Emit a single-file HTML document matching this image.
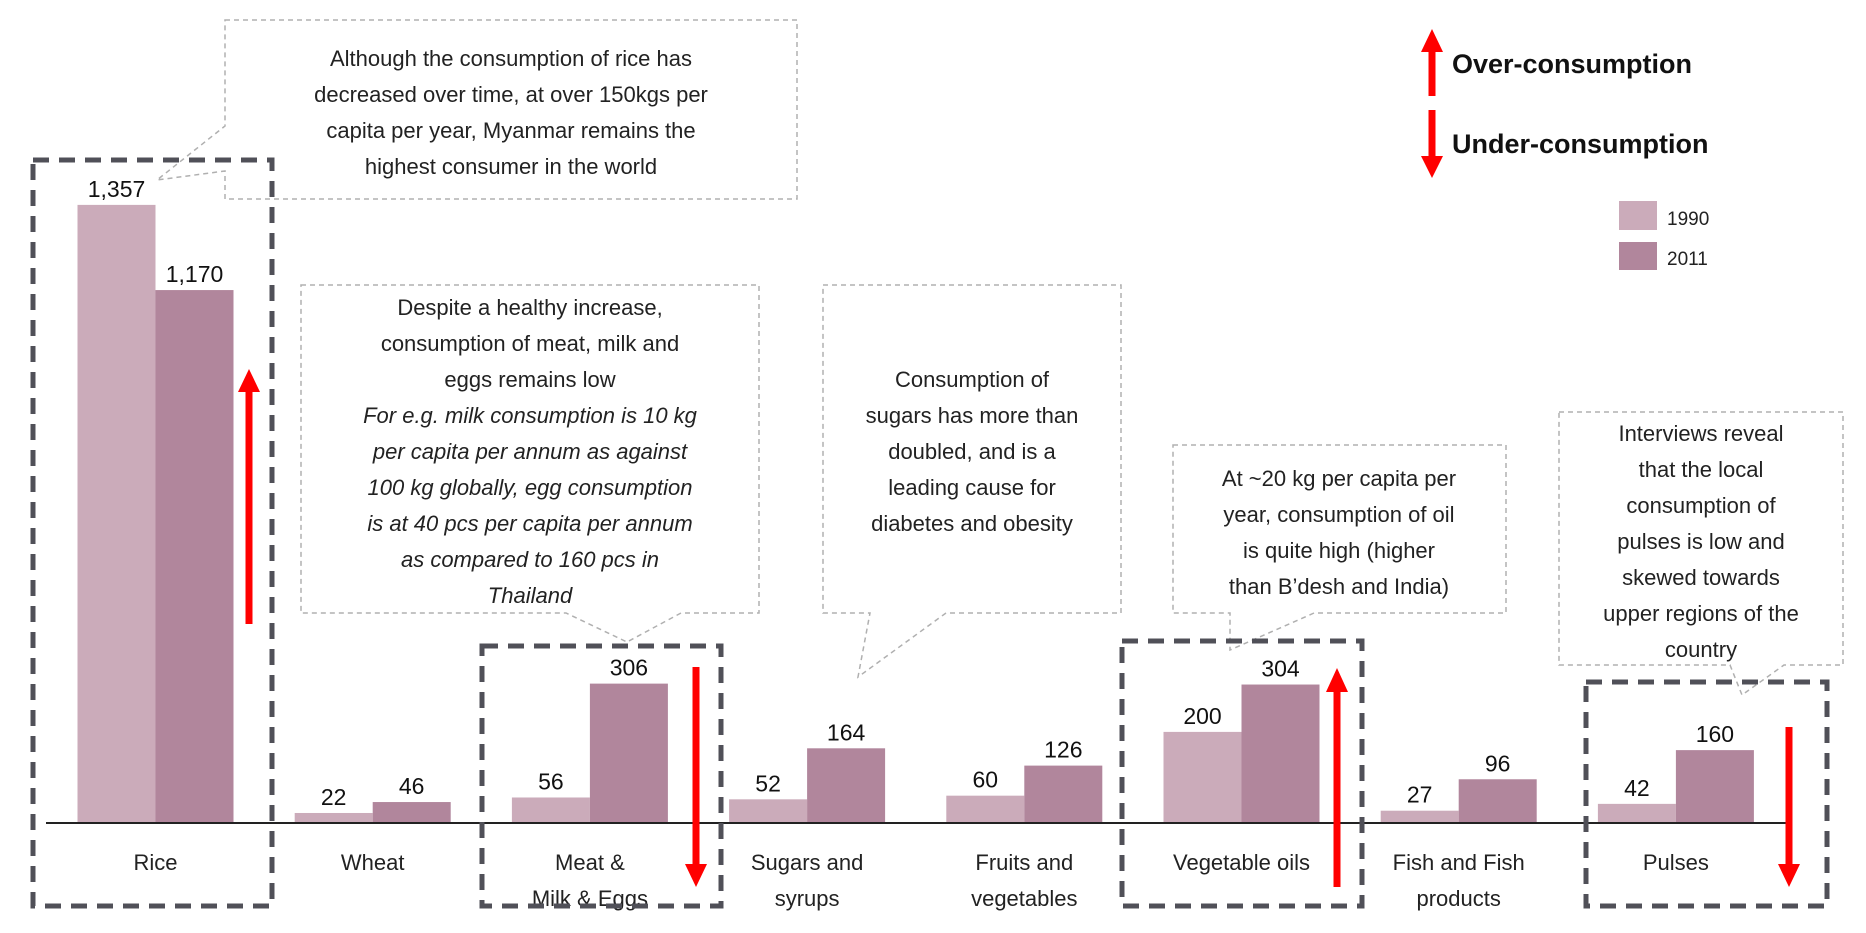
<!DOCTYPE html>
<html><head><meta charset="utf-8">
<style>
html,body{margin:0;padding:0;background:#fff;}
body{width:1866px;height:928px;overflow:hidden;font-family:"Liberation Sans",sans-serif;}
svg text{font-family:"Liberation Sans",sans-serif;}
</style></head>
<body>
<svg id="chart" width="1866" height="928" viewBox="0 0 1866 928" xmlns="http://www.w3.org/2000/svg">
<g id="callouts" fill="#fff" stroke="#b0b0b0" stroke-width="1.5" stroke-dasharray="5,4">
  <path d="M225,20 H797 V199 H225 V171 L157,180 L225,126 Z"/>
  <path d="M301,285 H759 V613 H681 L627,642 L566,613 H301 Z"/>
  <path d="M823,285 H1121 V613 H946 L858,677 L870,613 H823 Z"/>
  <path d="M1173,445 H1506 V613 H1314 L1230,650 L1230,613 H1173 Z"/>
  <path d="M1559,412 H1843 V665 H1784 L1742,695 L1730,665 H1559 Z"/>
</g>
<g font-size="22" fill="#222" text-anchor="middle">
  <text x="511" y="66"><tspan x="511">Although the consumption of rice has</tspan><tspan x="511" dy="36">decreased over time, at over 150kgs per</tspan><tspan x="511" dy="36">capita per year, Myanmar remains the</tspan><tspan x="511" dy="36">highest consumer in the world</tspan></text>
  <text x="530" y="315"><tspan x="530">Despite a healthy increase,</tspan><tspan x="530" dy="36">consumption of meat, milk and</tspan><tspan x="530" dy="36">eggs remains low</tspan><tspan x="530" dy="36" font-style="italic">For e.g. milk consumption is 10 kg</tspan><tspan x="530" dy="36" font-style="italic">per capita per annum as against</tspan><tspan x="530" dy="36" font-style="italic">100 kg globally, egg consumption</tspan><tspan x="530" dy="36" font-style="italic">is at 40 pcs per capita per annum</tspan><tspan x="530" dy="36" font-style="italic">as compared to 160 pcs in</tspan><tspan x="530" dy="36" font-style="italic">Thailand</tspan></text>
  <text x="972" y="387"><tspan x="972">Consumption of</tspan><tspan x="972" dy="36">sugars has more than</tspan><tspan x="972" dy="36">doubled, and is a</tspan><tspan x="972" dy="36">leading cause for</tspan><tspan x="972" dy="36">diabetes and obesity</tspan></text>
  <text x="1339" y="486"><tspan x="1339">At ~20 kg per capita per</tspan><tspan x="1339" dy="36">year, consumption of oil</tspan><tspan x="1339" dy="36">is quite high (higher</tspan><tspan x="1339" dy="36">than B’desh and India)</tspan></text>
  <text x="1701" y="441"><tspan x="1701">Interviews reveal</tspan><tspan x="1701" dy="36">that the local</tspan><tspan x="1701" dy="36">consumption of</tspan><tspan x="1701" dy="36">pulses is low and</tspan><tspan x="1701" dy="36">skewed towards</tspan><tspan x="1701" dy="36">upper regions of the</tspan><tspan x="1701" dy="36">country</tspan></text>
</g>
<g id="bars"></g>
<line x1="46" y1="823" x2="1786" y2="823" stroke="#222" stroke-width="2"/>
<g id="labels"></g>
<g fill="none" stroke="#505058" stroke-width="5" stroke-dasharray="16,10">
  <rect x="33" y="160" width="239" height="746"/>
  <rect x="482" y="646" width="239" height="260"/>
  <rect x="1122" y="641" width="240" height="265"/>
  <rect x="1586" y="682" width="241" height="224"/>
</g>
<g fill="#ff0000" stroke="#ff0000">
  <g><line x1="249" y1="390" x2="249" y2="624" stroke-width="7"/><polygon points="238,392 260,392 249,369" stroke="none"/></g>
  <g><line x1="696" y1="667" x2="696" y2="866" stroke-width="7"/><polygon points="685,864 707,864 696,887" stroke="none"/></g>
  <g><line x1="1337" y1="690" x2="1337" y2="887" stroke-width="7"/><polygon points="1326,692 1348,692 1337,668" stroke="none"/></g>
  <g><line x1="1789" y1="727" x2="1789" y2="866" stroke-width="7"/><polygon points="1778,864 1800,864 1789,887" stroke="none"/></g>
  <g><line x1="1432" y1="50" x2="1432" y2="96" stroke-width="7"/><polygon points="1421,52 1443,52 1432,29" stroke="none"/></g>
  <g><line x1="1432" y1="110" x2="1432" y2="158" stroke-width="7"/><polygon points="1421,156 1443,156 1432,178" stroke="none"/></g>
</g>
<text x="1452" y="73" font-size="27" font-weight="bold" fill="#111">Over-consumption</text>
<text x="1452" y="153" font-size="27" font-weight="bold" fill="#111">Under-consumption</text>
<rect x="1619" y="201" width="38" height="29" fill="#cbabba"/>
<text x="1667" y="225" font-size="19" fill="#222">1990</text>
<rect x="1619" y="242" width="38" height="28" fill="#b1869c"/>
<text x="1667" y="265" font-size="19" fill="#222">2011</text>
</svg>
<script>
const categories = [["Rice"],["Wheat"],["Meat &","Milk & Eggs"],["Sugars and","syrups"],["Fruits and","vegetables"],["Vegetable oils"],["Fish and Fish","products"],["Pulses"]];
const values1990 = [1357, 22, 56, 52, 60, 200, 27, 42];
const values2011 = [1170, 46, 306, 164, 126, 304, 96, 160];
const valueLabels1990 = ["1,357","22","56","52","60","200","27","42"];
const valueLabels2011 = ["1,170","46","306","164","126","304","96","160"];

const NS = "http://www.w3.org/2000/svg";
const baseY = 823, pxPerUnit = 0.4555, x0 = 155.5, step = 217.2, barW = 78;
function xCenter(i){ return x0 + i*step; }
function yScale(v){ return baseY - v*pxPerUnit; }
const barsG = document.getElementById('bars');
const labelsG = document.getElementById('labels');
function mk(tag, attrs, parent){ const e=document.createElementNS(NS,tag); for(const k in attrs) e.setAttribute(k,attrs[k]); parent.appendChild(e); return e; }
categories.forEach((cat,i)=>{
  const cx = xCenter(i);
  [[values1990,valueLabels1990,"#cbabba",-barW,"1990"],[values2011,valueLabels2011,"#b1869c",0,"2011"]].forEach(s=>{
    const v = s[0][i], x = cx + s[3], y = yScale(v);
    const r = mk('rect',{x:x,y:y,width:barW,height:baseY-y,fill:s[2]},barsG);
    
    
    const t = mk('text',{x:x+barW/2,y:y-8,'font-size':23,'text-anchor':'middle',fill:'#111'},labelsG);
    t.textContent = s[1][i];
    
    
  });
  const ct = mk('text',{x:cx,y:870,'font-size':22,'text-anchor':'middle',fill:'#222'},labelsG);
  
  
  cat.forEach((line,j)=>{ const ts = mk('tspan',{x:cx,dy:j?36:0},ct); ts.textContent=line; });
});
</script>
</body></html>
